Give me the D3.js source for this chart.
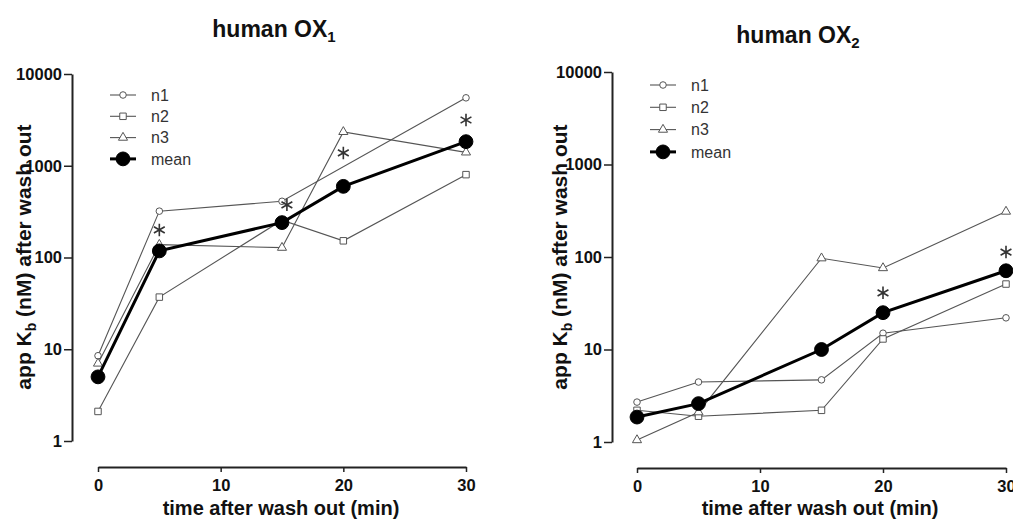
<!DOCTYPE html>
<html>
<head>
<meta charset="utf-8">
<script src="https://cdn.jsdelivr.net/npm/d3@7"></script>
<style>
body { margin: 0; background: #fff; }
svg { display: block; font-family: "Liberation Sans", Arial, sans-serif; }
</style>
</head>
<body>
<svg id="chart" width="1013" height="522"></svg>
<script>
// shared axes
const times = [0, 5, 15, 20, 30];
const xTicks = [0, 10, 20, 30];
const yTicks = [1, 10, 100, 1000, 10000];
const seriesNames = ["n1", "n2", "n3", "mean"];
const seriesShapes = ["circle", "square", "triangle", "circle"];

// human OX1  (app Kb in nM, null = no point)
const ox1_n1 = [8.5, 320, 410, null, 5500];
const ox1_n2 = [2.1, 37, 255, 152, 800];
const ox1_n3 = [7.0, 138, 128, 2340, 1400];
const ox1_mean = [5.0, 118, 240, 596, 1830];
const ox1_starTimes = [5, 15.4, 20, 30];
const ox1_starValues = [200, 375, 1380, 3150];

// human OX2
const ox2_n1 = [2.7, 4.45, 4.7, 15, 22];
const ox2_n2 = [2.2, 1.9, 2.2, 13, 51];
const ox2_n3 = [1.05, 2.1, 97, 76, 310];
const ox2_mean = [1.86, 2.6, 10, 25, 71];
const ox2_starTimes = [20, 30];
const ox2_starValues = [41, 113];

const svg = d3.select("#chart");

const panels = [
  { sub: "1", series: [ox1_n1, ox1_n2, ox1_n3, ox1_mean], starT: ox1_starTimes, starV: ox1_starValues,
    yAxisX: 72, x0: 98, x1: 466, yTop: 74, yBot: 441, xAxisY: 467,
    titleX: 274, titleY: 37, ylabX: 31, xlabX: 281, legX: 110, legY: 95, legStep: 21.3 },
  { sub: "2", series: [ox2_n1, ox2_n2, ox2_n3, ox2_mean], starT: ox2_starTimes, starV: ox2_starValues,
    yAxisX: 612, x0: 637, x1: 1006, yTop: 72, yBot: 442, xAxisY: 468,
    titleX: 798, titleY: 43, ylabX: 567, xlabX: 820, legX: 650, legY: 85, legStep: 22.3 }
];

function symbolFor(shape, big) {
  if (big) return d3.symbol(d3.symbolCircle, 150)();
  if (shape == "circle") return d3.symbol(d3.symbolCircle, 34)();
  if (shape == "square") return d3.symbol(d3.symbolSquare, 42)();
  return d3.symbol(d3.symbolTriangle, 36)();
}

panels.forEach(p => {
  let g = svg.append("g");
  let x = d3.scaleLinear().domain([0, 30]).range([p.x0, p.x1]);
  let y = d3.scaleLog().domain([1, 10000]).range([p.yBot, p.yTop]);

  // y axis
  let ya = g.append("g")
    .attr("transform", `translate(${p.yAxisX},0)`)
    .call(d3.axisLeft(y).tickValues(yTicks).tickFormat(d3.format("d")).tickSize(8).tickSizeOuter(0).tickPadding(2));
  // x axis (offset, Prism style)
  let xa = g.append("g")
    .attr("transform", `translate(0,${p.xAxisY})`)
    .call(d3.axisBottom(x).tickValues(xTicks).tickSize(5).tickSizeOuter(0).tickPadding(7));
  [ya, xa].forEach(a => {
    a.select(".domain").attr("stroke", "#222").attr("stroke-width", 2);
    a.selectAll(".tick line").attr("stroke", "#222").attr("stroke-width", 1.5);
    a.selectAll(".tick text").attr("fill", "#111").style("font-size", "16.5px").style("font-weight", "bold")
      .style("font-family", '"Liberation Sans", Arial, sans-serif');
  });

  // title
  let t = g.append("text").attr("x", p.titleX).attr("y", p.titleY).attr("text-anchor", "middle")
    .style("font-size", "23px").style("font-weight", "bold").attr("fill", "#111");
  t.append("tspan").text("human OX");
  t.append("tspan").attr("dy", 5).style("font-size", "15px").text(p.sub);

  // axis titles
  g.append("text").attr("x", p.xlabX).attr("y", 515).attr("text-anchor", "middle")
    .style("font-size", "20px").style("font-weight", "bold").attr("fill", "#111")
    .text("time after wash out (min)");
  let yl = g.append("text").attr("transform", `translate(${p.ylabX},257) rotate(-90)`)
    .attr("text-anchor", "middle").style("font-size", "21px").style("font-weight", "bold").attr("fill", "#111");
  yl.append("tspan").text("app K");
  yl.append("tspan").attr("dy", 5).style("font-size", "14px").text("b");
  yl.append("tspan").attr("dy", -5).text(" (nM) after wash out");

  // replicate lines first, mean on top
  let line = d3.line().x(d => x(d.t)).y(d => y(d.v));
  p.series.forEach((vals, i) => {
    let pts = times.map((tm, j) => ({ t: tm, v: vals[j] })).filter(d => d.v != null);
    let isMean = seriesNames[i] == "mean";
    g.append("path").datum(pts)
      .attr("fill", "none")
      .attr("stroke", isMean ? "#000" : "#555")
      .attr("stroke-width", isMean ? 3 : 1.1)
      .attr("d", line);
    g.selectAll(null).data(pts).enter().append("path")
      .attr("transform", d => `translate(${x(d.t)},${y(d.v)})`)
      .attr("d", symbolFor(seriesShapes[i], isMean))
      .attr("fill", isMean ? "#000" : "#fff")
      .attr("stroke", isMean ? "#000" : "#555")
      .attr("stroke-width", 1);
  });

  // significance stars
  let stars = p.starT.map((tm, j) => ({ t: tm, v: p.starV[j] }));
  g.selectAll(null).data(stars).enter().append("path")
    .attr("transform", d => `translate(${x(d.t)},${y(d.v)})`)
    .attr("d", d3.symbol(d3.symbolAsterisk, 110)())
    .attr("fill", "none").attr("stroke", "#333").attr("stroke-width", 1.6);

  // legend
  let leg = g.append("g");
  seriesNames.forEach((nm, i) => {
    let ly = p.legY + i * p.legStep;
    let isMean = nm == "mean";
    leg.append("line").attr("x1", p.legX).attr("x2", p.legX + 26).attr("y1", ly).attr("y2", ly)
      .attr("stroke", isMean ? "#000" : "#555").attr("stroke-width", isMean ? 3 : 1.1);
    leg.append("path").attr("transform", `translate(${p.legX + 13},${ly})`)
      .attr("d", symbolFor(seriesShapes[i], isMean))
      .attr("fill", isMean ? "#000" : "#fff").attr("stroke", isMean ? "#000" : "#555");
    leg.append("text").attr("x", p.legX + 41).attr("y", ly).attr("dy", "0.35em")
      .style("font-size", "16px").attr("fill", "#333").text(nm);
  });
});
</script>
</body>
</html>
